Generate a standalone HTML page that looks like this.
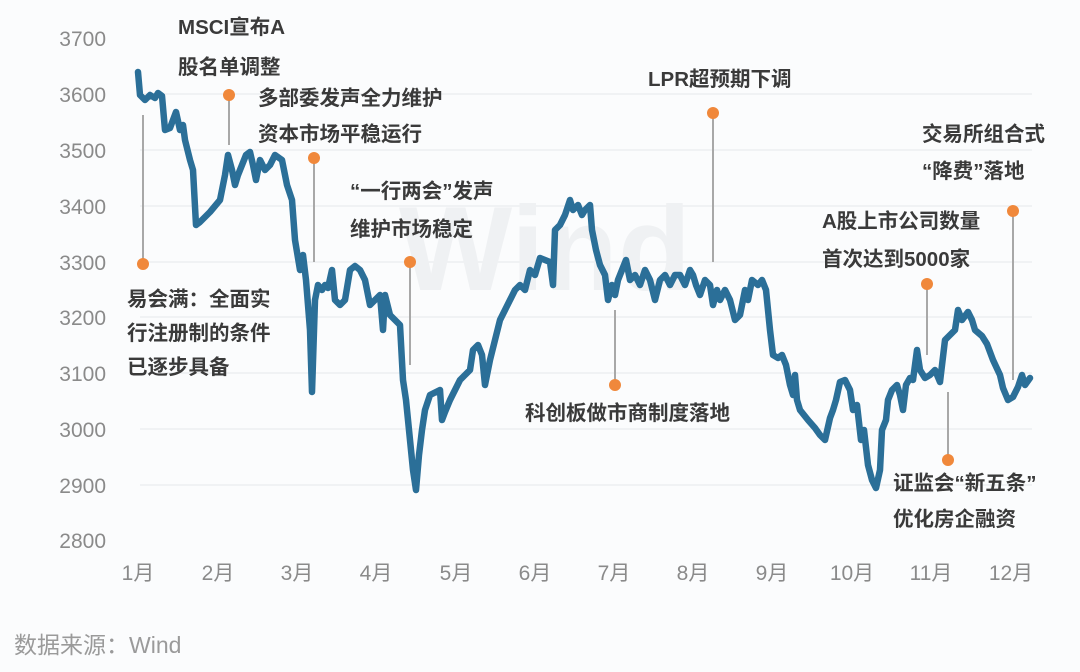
<!DOCTYPE html>
<html><head><meta charset="utf-8"><style>
html,body{margin:0;padding:0;background:#fbfcfd;}
svg{display:block;font-family:"Liberation Sans","Noto Sans CJK SC",sans-serif;}
.ax{fill:#8a8a8a;font-size:21px;}
.an{fill:#3a3a3a;font-size:20.5px;font-weight:bold;}
</style></head><body>
<svg width="1080" height="672" viewBox="0 0 1080 672">
<rect width="1080" height="672" fill="#fbfcfd"/>
<g stroke="#e6e8ea" stroke-width="1">
<line x1="140" x2="1032" y1="94" y2="94"/><line x1="140" x2="1032" y1="150" y2="150"/>
<line x1="140" x2="1032" y1="206" y2="206"/><line x1="140" x2="1032" y1="262" y2="262"/>
<line x1="140" x2="1032" y1="317" y2="317"/><line x1="140" x2="1032" y1="373" y2="373"/>
<line x1="140" x2="1032" y1="429" y2="429"/><line x1="140" x2="1032" y1="485" y2="485"/>
</g>
<text x="545" y="290" text-anchor="middle" font-size="120" font-weight="bold" fill="#eff1f3">Wind</text>
<g class="ax" text-anchor="end">
<text x="106" y="46">3700</text><text x="106" y="102">3600</text><text x="106" y="158">3500</text>
<text x="106" y="214">3400</text><text x="106" y="270">3300</text><text x="106" y="325">3200</text>
<text x="106" y="381">3100</text><text x="106" y="437">3000</text><text x="106" y="493">2900</text>
<text x="106" y="548">2800</text>
</g>
<g class="ax" text-anchor="middle">
<text x="138" y="580">1月</text><text x="218" y="580">2月</text><text x="297" y="580">3月</text>
<text x="376" y="580">4月</text><text x="456" y="580">5月</text><text x="535" y="580">6月</text>
<text x="614" y="580">7月</text><text x="693" y="580">8月</text><text x="772" y="580">9月</text>
<text x="852" y="580">10月</text><text x="931" y="580">11月</text><text x="1011" y="580">12月</text>
</g>
<g stroke="#a8a8a8" stroke-width="2">
<line x1="143" y1="264" x2="143" y2="115"/><line x1="229" y1="95" x2="229" y2="145"/>
<line x1="314" y1="158" x2="314" y2="262"/><line x1="410" y1="262" x2="410" y2="365"/>
<line x1="615" y1="385" x2="615" y2="310"/><line x1="713" y1="113" x2="713" y2="262"/>
<line x1="927" y1="284" x2="927" y2="355"/><line x1="948" y1="460" x2="948" y2="392"/>
<line x1="1013" y1="211" x2="1013" y2="380"/>
</g>
<polyline fill="none" stroke="#2b6f98" stroke-width="6.5" stroke-linejoin="round" stroke-linecap="round" points="138,72 140,95 145,100 150,95 155,98 158,93 162,96 165,130 170,128 173,120 176,112 180,130 183,125 185,140 190,160 193,170 196,225 200,222 210,212 220,200 225,175 228,155 232,170 235,185 238,175 242,165 246,155 250,152 253,165 256,180 260,160 265,170 270,165 275,155 282,160 287,185 292,200 295,240 300,270 303,255 306,280 310,330 312,392 315,300 318,285 322,290 325,285 328,288 332,270 335,300 340,305 345,300 350,270 355,266 360,270 365,280 370,305 375,300 380,295 383,330 385,295 390,315 395,320 400,325 403,380 406,400 410,440 413,470 416,490 419,455 422,430 425,410 430,395 440,390 442,420 445,412 450,400 455,390 460,380 465,375 470,370 473,350 478,345 482,355 485,385 490,360 495,340 500,320 505,310 510,300 515,290 520,285 525,290 530,270 535,275 540,258 545,260 550,262 553,285 555,230 560,225 565,215 570,200 573,210 578,205 582,215 585,210 590,205 592,230 596,250 600,265 605,275 608,300 612,285 615,295 618,280 622,270 626,260 630,280 635,275 640,285 645,270 650,280 655,300 660,280 665,275 670,285 675,275 680,275 685,285 690,270 693,275 696,285 700,295 705,280 710,285 713,305 717,290 720,300 725,290 730,300 735,320 740,315 745,290 748,300 752,280 758,285 762,280 766,290 770,330 773,355 778,358 782,355 786,365 790,385 793,395 795,375 797,400 800,410 808,420 815,428 820,435 825,440 830,418 833,410 836,400 840,382 845,380 850,390 853,410 857,405 861,440 864,430 868,465 872,480 876,488 880,470 882,430 886,420 888,400 892,390 897,385 900,395 903,410 906,385 910,378 913,380 917,350 920,370 925,378 930,375 935,370 940,382 945,340 950,335 955,330 958,310 962,320 968,312 972,320 975,330 982,336 987,344 993,360 1000,375 1003,388 1008,400 1013,397 1018,387 1022,375 1025,385 1030,378"/>
<g fill="#f0883b">
<circle cx="143" cy="264" r="6"/><circle cx="229" cy="95" r="6"/><circle cx="314" cy="158" r="6"/>
<circle cx="410" cy="262" r="6"/><circle cx="615" cy="385" r="6"/><circle cx="713" cy="113" r="6"/>
<circle cx="927" cy="284" r="6"/><circle cx="948" cy="460" r="6"/><circle cx="1013" cy="211" r="6"/>
</g>
<g class="an">
<text x="178" y="34">MSCI宣布A</text><text x="178" y="74">股名单调整</text>
<text x="258" y="105">多部委发声全力维护</text><text x="258" y="141">资本市场平稳运行</text>
<text x="127" y="306">易会满：全面实</text><text x="127" y="340">行注册制的条件</text><text x="127" y="374">已逐步具备</text>
<text x="350" y="198">“一行两会”发声</text><text x="350" y="236">维护市场稳定</text>
<text x="525" y="420">科创板做市商制度落地</text>
<text x="648" y="86">LPR超预期下调</text>
<text x="822" y="228">A股上市公司数量</text><text x="822" y="266">首次达到5000家</text>
<text x="893" y="490">证监会“新五条”</text><text x="893" y="526">优化房企融资</text>
<text x="922" y="141">交易所组合式</text><text x="922" y="178">“降费”落地</text>
</g>
<text x="14" y="653" font-size="23" fill="#9a9a9a">数据来源：Wind</text>
</svg>
</body></html>
